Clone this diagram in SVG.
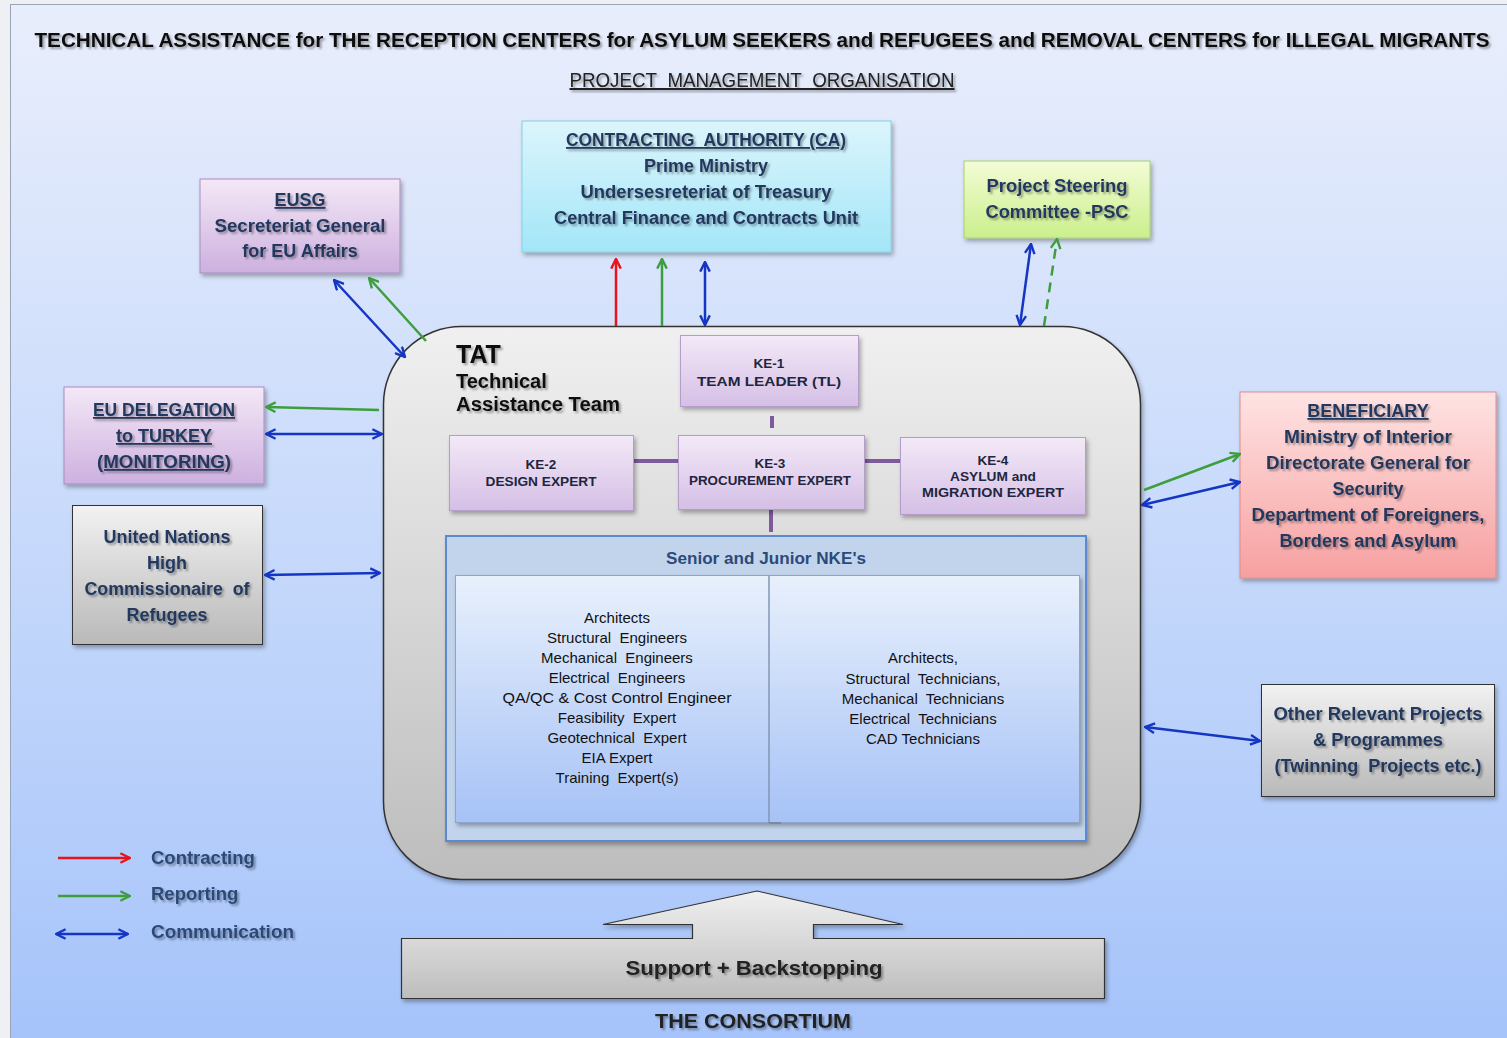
<svg xmlns="http://www.w3.org/2000/svg" width="1507" height="1038" viewBox="0 0 1507 1038">
<defs>
<linearGradient id="bg" x1="0" y1="0" x2="0" y2="1"><stop offset="0" stop-color="#e9eefb"/><stop offset="0.5" stop-color="#c8dafb"/><stop offset="1" stop-color="#a5c3fa"/></linearGradient>
<linearGradient id="gCA" x1="0" y1="0" x2="0" y2="1"><stop offset="0" stop-color="#dcf5fc"/><stop offset="1" stop-color="#a3e6f8"/></linearGradient>
<linearGradient id="gPur" x1="0" y1="0" x2="0" y2="1"><stop offset="0" stop-color="#f4e8f7"/><stop offset="1" stop-color="#cdb0df"/></linearGradient>
<linearGradient id="gKE" x1="0" y1="0" x2="0" y2="1"><stop offset="0" stop-color="#f3e9f7"/><stop offset="1" stop-color="#d5bfe6"/></linearGradient>
<linearGradient id="gPSC" x1="0" y1="0" x2="0" y2="1"><stop offset="0" stop-color="#f3fcd6"/><stop offset="1" stop-color="#cbef8c"/></linearGradient>
<linearGradient id="gRed" x1="0" y1="0" x2="0" y2="1"><stop offset="0" stop-color="#ffe3e3"/><stop offset="1" stop-color="#f7a0a0"/></linearGradient>
<linearGradient id="gGrey" x1="0" y1="0" x2="0" y2="1"><stop offset="0" stop-color="#f2f2f2"/><stop offset="1" stop-color="#b9b9b9"/></linearGradient>
<linearGradient id="gTAT" x1="0" y1="0" x2="0" y2="1"><stop offset="0" stop-color="#f0f0f0"/><stop offset="1" stop-color="#bdbdbd"/></linearGradient>
<linearGradient id="gNKE" x1="0" y1="0" x2="0" y2="1"><stop offset="0" stop-color="#e8f0fc"/><stop offset="1" stop-color="#a6c2f6"/></linearGradient>
<filter id="sh" x="-10%" y="-10%" width="130%" height="140%"><feDropShadow dx="2" dy="3" stdDeviation="2" flood-color="#000" flood-opacity="0.3"/></filter>
<filter id="ts" x="-5%" y="-20%" width="115%" height="160%"><feDropShadow dx="2" dy="2" stdDeviation="1.3" flood-color="#000" flood-opacity="0.35"/></filter>
<marker id="mr" viewBox="0 0 10 10" refX="9" refY="5" markerWidth="12" markerHeight="12" markerUnits="userSpaceOnUse" orient="auto-start-reverse"><path d="M1,1 L9,5 L1,9" fill="none" stroke="#e8141c" stroke-width="2"/></marker>
<marker id="mg" viewBox="0 0 10 10" refX="9" refY="5" markerWidth="12" markerHeight="12" markerUnits="userSpaceOnUse" orient="auto-start-reverse"><path d="M1,1 L9,5 L1,9" fill="none" stroke="#3e9e3e" stroke-width="2"/></marker>
<marker id="mb" viewBox="0 0 10 10" refX="9" refY="5" markerWidth="12" markerHeight="12" markerUnits="userSpaceOnUse" orient="auto-start-reverse"><path d="M1,1 L9,5 L1,9" fill="none" stroke="#1535c4" stroke-width="2"/></marker>
<style>
text{font-family:"Liberation Sans",Arial,sans-serif;}
.b{font-weight:bold;fill:#22385e;font-size:18px;text-anchor:middle;}
.u{text-decoration:underline;}
.ke{font-weight:bold;fill:#1e2640;font-size:13.5px;text-anchor:middle;}
.li{fill:#111;font-size:15px;text-anchor:middle;}
.lg{font-weight:bold;fill:#2c4a78;font-size:18.5px;}
.r{stroke:#e8141c;stroke-width:2.5;fill:none;}
.g{stroke:#3e9e3e;stroke-width:2.5;fill:none;}
.bl{stroke:#1535c4;stroke-width:2.5;fill:none;}
.pl{stroke:#7d5a9c;stroke-width:4;}
</style>
</defs>
<rect width="1507" height="1038" fill="#eef0f4"/>
<rect x="10.5" y="4.5" width="1500" height="1040" fill="url(#bg)" stroke="#98a4b8"/>

<g filter="url(#ts)">
<text x="762" y="47" font-size="20.5" font-weight="bold" fill="#111" text-anchor="middle" textLength="1455" lengthAdjust="spacingAndGlyphs">TECHNICAL ASSISTANCE for THE RECEPTION CENTERS for ASYLUM SEEKERS and REFUGEES and REMOVAL CENTERS for ILLEGAL MIGRANTS</text>
<text x="762" y="87" font-size="20" fill="#222" text-anchor="middle" text-decoration="underline" textLength="385" lengthAdjust="spacingAndGlyphs">PROJECT&#160; MANAGEMENT&#160; ORGANISATION</text>
</g>

<g id="ca">
<rect x="522" y="121" width="369" height="131" fill="url(#gCA)" stroke="#86cfe2" filter="url(#sh)"/>
<g filter="url(#ts)">
<text class="b u" x="706" y="146" textLength="280" lengthAdjust="spacingAndGlyphs">CONTRACTING&#160; AUTHORITY (CA)</text>
<text class="b" x="706" y="172">Prime Ministry</text>
<text class="b" x="706" y="198" textLength="251" lengthAdjust="spacingAndGlyphs">Undersesreteriat of Treasury</text>
<text class="b" x="706" y="224" textLength="304" lengthAdjust="spacingAndGlyphs">Central Finance and Contracts Unit</text>
</g>
</g>

<g id="eusg">
<rect x="200" y="179" width="200" height="94" fill="url(#gPur)" stroke="#a98cc0" filter="url(#sh)"/>
<g filter="url(#ts)">
<text class="b u" x="300" y="206">EUSG</text>
<text class="b" x="300" y="232" textLength="171" lengthAdjust="spacingAndGlyphs">Secreteriat General</text>
<text class="b" x="300" y="257">for EU Affairs</text>
</g>
</g>

<g id="psc">
<rect x="964" y="161" width="186" height="77" fill="url(#gPSC)" stroke="#a8cf70" filter="url(#sh)"/>
<g filter="url(#ts)">
<text class="b" x="1057" y="192" textLength="141" lengthAdjust="spacingAndGlyphs">Project Steering</text>
<text class="b" x="1057" y="218" textLength="143" lengthAdjust="spacingAndGlyphs">Committee -PSC</text>
</g>
</g>

<g id="eudel">
<rect x="64" y="387" width="200" height="97" fill="url(#gPur)" stroke="#a98cc0" filter="url(#sh)"/>
<g filter="url(#ts)">
<text class="b u" x="164" y="416" textLength="142" lengthAdjust="spacingAndGlyphs">EU DELEGATION</text>
<text class="b u" x="164" y="442">to TURKEY</text>
<text class="b u" x="164" y="468" textLength="134" lengthAdjust="spacingAndGlyphs">(MONITORING)</text>
</g>
</g>

<g id="unhcr">
<rect x="72.5" y="505.5" width="190" height="139" fill="url(#gGrey)" stroke="#333" filter="url(#sh)"/>
<g filter="url(#ts)">
<text class="b" x="167" y="543">United Nations</text>
<text class="b" x="167" y="569">High</text>
<text class="b" x="167" y="595" textLength="165" lengthAdjust="spacingAndGlyphs">Commissionaire&#160; of</text>
<text class="b" x="167" y="621">Refugees</text>
</g>
</g>

<g id="beneficiary">
<rect x="1240" y="392" width="256" height="186" fill="url(#gRed)" stroke="#e08c8c" filter="url(#sh)"/>
<g filter="url(#ts)">
<text class="b u" x="1368" y="417">BENEFICIARY</text>
<text class="b" x="1368" y="443" textLength="168" lengthAdjust="spacingAndGlyphs">Ministry of Interior</text>
<text class="b" x="1368" y="469" textLength="204" lengthAdjust="spacingAndGlyphs">Directorate General for</text>
<text class="b" x="1368" y="495">Security</text>
<text class="b" x="1368" y="521" textLength="233" lengthAdjust="spacingAndGlyphs">Department of Foreigners,</text>
<text class="b" x="1368" y="547" textLength="177" lengthAdjust="spacingAndGlyphs">Borders and Asylum</text>
</g>
</g>

<g id="other">
<rect x="1261.5" y="684.5" width="233" height="112" fill="url(#gGrey)" stroke="#333" filter="url(#sh)"/>
<g filter="url(#ts)">
<text class="b" x="1378" y="720" textLength="209" lengthAdjust="spacingAndGlyphs">Other Relevant Projects</text>
<text class="b" x="1378" y="746" textLength="130" lengthAdjust="spacingAndGlyphs">&amp; Programmes</text>
<text class="b" x="1378" y="772" textLength="207" lengthAdjust="spacingAndGlyphs">(Twinning&#160; Projects etc.)</text>
</g>
</g>

<g id="tat">
<rect x="383.5" y="326.5" width="757" height="553" rx="78" ry="78" fill="url(#gTAT)" stroke="#333" stroke-width="1.5" filter="url(#sh)"/>
<g filter="url(#ts)">
<text x="456" y="363" font-size="25" font-weight="bold" fill="#111">TAT</text>
<text x="456" y="388" font-size="20" font-weight="bold" fill="#111">Technical</text>
<text x="456" y="411" font-size="20" font-weight="bold" fill="#111" textLength="164" lengthAdjust="spacingAndGlyphs">Assistance Team</text>
</g>
</g>

<g id="ke-lines">
<line class="pl" x1="772" y1="416" x2="772" y2="428"/>
<line class="pl" x1="633" y1="461" x2="678" y2="461"/>
<line class="pl" x1="864" y1="461" x2="900" y2="461"/>
<line class="pl" x1="771" y1="509" x2="771" y2="532"/>
</g>

<g id="ke1">
<rect x="680.5" y="335.5" width="178" height="71" fill="url(#gKE)" stroke="#b49ccb" filter="url(#sh)"/>
<text class="ke" x="769" y="368">KE-1</text>
<text class="ke" x="769" y="386" textLength="144" lengthAdjust="spacingAndGlyphs">TEAM LEADER (TL)</text>
</g>
<g id="ke2">
<rect x="449.5" y="435.5" width="184" height="75" fill="url(#gKE)" stroke="#b49ccb" filter="url(#sh)"/>
<text class="ke" x="541" y="469">KE-2</text>
<text class="ke" x="541" y="486" textLength="111" lengthAdjust="spacingAndGlyphs">DESIGN EXPERT</text>
</g>
<g id="ke3">
<rect x="678.5" y="435.5" width="186" height="74" fill="url(#gKE)" stroke="#b49ccb" filter="url(#sh)"/>
<text class="ke" x="770" y="468">KE-3</text>
<text class="ke" x="770" y="485" textLength="162" lengthAdjust="spacingAndGlyphs">PROCUREMENT EXPERT</text>
</g>
<g id="ke4">
<rect x="900.5" y="437.5" width="185" height="77" fill="url(#gKE)" stroke="#b49ccb" filter="url(#sh)"/>
<text class="ke" x="993" y="465">KE-4</text>
<text class="ke" x="993" y="481" textLength="86" lengthAdjust="spacingAndGlyphs">ASYLUM and</text>
<text class="ke" x="993" y="497" textLength="142" lengthAdjust="spacingAndGlyphs">MIGRATION EXPERT</text>
</g>

<g id="nke">
<rect x="446" y="536" width="640" height="305" fill="#c2d4ec" stroke="#5b8ad0" stroke-width="2" filter="url(#sh)"/>
<text x="766" y="564" font-size="16" font-weight="bold" fill="#2b4a7a" text-anchor="middle" textLength="200" lengthAdjust="spacingAndGlyphs">Senior and Junior NKE's</text>
<rect x="455.5" y="575.5" width="624" height="247" fill="url(#gNKE)" stroke="#8aa6cc" filter="url(#sh)"/>
<line x1="769" y1="576" x2="769" y2="823" stroke="#8296b4" stroke-width="1.5"/>
<line x1="769" y1="823" x2="781" y2="823" stroke="#7a8aa4" stroke-width="2"/>
<g>
<text class="li" x="617" y="623">Architects</text>
<text class="li" x="617" y="643">Structural&#160; Engineers</text>
<text class="li" x="617" y="663">Mechanical&#160; Engineers</text>
<text class="li" x="617" y="683">Electrical&#160; Engineers</text>
<text class="li" x="617" y="703" textLength="229" lengthAdjust="spacingAndGlyphs">QA/QC &amp; Cost Control Engineer</text>
<text class="li" x="617" y="723">Feasibility&#160; Expert</text>
<text class="li" x="617" y="743">Geotechnical&#160; Expert</text>
<text class="li" x="617" y="763">EIA Expert</text>
<text class="li" x="617" y="783">Training&#160; Expert(s)</text>
<text class="li" x="923" y="663">Architects,</text>
<text class="li" x="923" y="684">Structural&#160; Technicians,</text>
<text class="li" x="923" y="704">Mechanical&#160; Technicians</text>
<text class="li" x="923" y="724">Electrical&#160; Technicians</text>
<text class="li" x="923" y="744">CAD Technicians</text>
</g>
</g>

<g id="connectors">
<line class="r" x1="616" y1="326" x2="616" y2="259" marker-end="url(#mr)"/>
<line class="g" x1="662" y1="326" x2="662" y2="259" marker-end="url(#mg)"/>
<line class="bl" x1="705" y1="325" x2="705" y2="262" marker-start="url(#mb)" marker-end="url(#mb)"/>
<line class="bl" x1="405" y1="357" x2="334" y2="280" marker-start="url(#mb)" marker-end="url(#mb)"/>
<line class="g" x1="426" y1="341" x2="369" y2="278" marker-end="url(#mg)"/>
<line class="bl" x1="1020" y1="325" x2="1031" y2="244" marker-start="url(#mb)" marker-end="url(#mb)"/>
<line class="g" x1="1044" y1="326" x2="1057" y2="239" stroke-dasharray="10,7" marker-end="url(#mg)"/>
<line class="g" x1="379" y1="410" x2="266" y2="407" marker-end="url(#mg)"/>
<line class="bl" x1="266" y1="434" x2="382" y2="434" marker-start="url(#mb)" marker-end="url(#mb)"/>
<line class="bl" x1="265" y1="575" x2="380" y2="573" marker-start="url(#mb)" marker-end="url(#mb)"/>
<line class="g" x1="1144" y1="490" x2="1240" y2="454" marker-end="url(#mg)"/>
<line class="bl" x1="1142" y1="505" x2="1240" y2="482" marker-start="url(#mb)" marker-end="url(#mb)"/>
<line class="bl" x1="1145" y1="727" x2="1260" y2="741" marker-start="url(#mb)" marker-end="url(#mb)"/>
</g>

<g id="legend">
<line class="r" x1="58" y1="858" x2="130" y2="858" marker-end="url(#mr)"/>
<line class="g" x1="58" y1="896" x2="130" y2="896" marker-end="url(#mg)"/>
<line class="bl" x1="56" y1="934" x2="128" y2="934" marker-start="url(#mb)" marker-end="url(#mb)"/>
<g filter="url(#ts)">
<text class="lg" x="151" y="864">Contracting</text>
<text class="lg" x="151" y="900">Reporting</text>
<text class="lg" x="151" y="938" textLength="143" lengthAdjust="spacingAndGlyphs">Communication</text>
</g>
</g>

<g id="consortium">
<path d="M401.5,938.5 H692.5 V924.5 H603 L757,891 L903,924.5 H813.5 V938.5 H1104.5 V998.5 H401.5 Z" fill="url(#gTAT)" stroke="#333" stroke-width="1.2" filter="url(#sh)"/>
<g filter="url(#ts)">
<text x="754" y="975" font-size="21" font-weight="bold" fill="#222" text-anchor="middle" textLength="257" lengthAdjust="spacingAndGlyphs">Support + Backstopping</text>
<text x="753" y="1028" font-size="20" font-weight="bold" fill="#222" text-anchor="middle" textLength="196" lengthAdjust="spacingAndGlyphs">THE CONSORTIUM</text>
</g>
</g>
</svg>
